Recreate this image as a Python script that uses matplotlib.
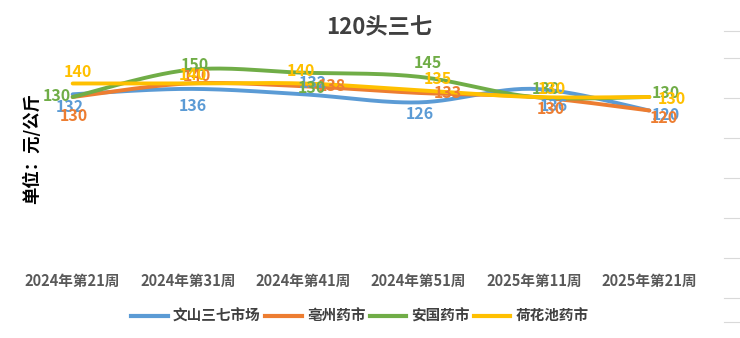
import numpy as np
import matplotlib
matplotlib.use("Agg")
import matplotlib.pyplot as plt
from matplotlib.lines import Line2D

plt.rcParams['font.family'] = ['Noto Sans CJK SC', 'DejaVu Sans']

# ---------------- data ----------------
title = "120头三七"
ylabel = "单位：元/公斤"
weeks = ["2024年第21周", "2024年第31周", "2024年第41周", "2024年第51周", "2025年第11周", "2025年第21周"]
series_names = ["文山三七市场", "亳州药市", "安国药市", "荷花池药市"]
wenshan = [132, 136, 132, 126, 136, 120]
bozhou = [130, 140, 138, 133, 130, 120]
anguo = [130, 150, 148, 145, 130, 130]
hehuachi = [140, 140, 140, 135, 130, 130]
# label texts as printed on the chart
wenshan_lbl = ["132", "136", "132", "126", "136", "120"]
bozhou_lbl = ["130", "140", "138", "133", "130", "120"]
anguo_lbl = ["130", "150", "130", "145", "130", "130"]
hehuachi_lbl = ["140", "140", "140", "135", "130", "130"]

# ---------------- style ----------------
colors = ["#5B9BD5", "#ED7D31", "#70AD47", "#FFC000"]
# label offsets in pixels (dx, dy down-positive)
offsets = [
    [(-3, 13), (5, 17), (9, -11), (1, 12), (20, 17), (17, 5)],
    [(1, 19), (9, -7), (29, 0), (29, 0), (17, 12), (15, 8)],
    [(-16, -1), (7, -5), (9, 15), (9, -14), (12, -8), (17, -4)],
    [(5, -11), (5, -8), (-2, -12), (19, -11), (18, -8), (23, 2)],
]

W, H = 740, 338
fig = plt.figure(figsize=(W / 100, H / 100), dpi=100)
ax = fig.add_axes([15 / W, (H - 265) / H, 692 / W, 205 / H])


def smooth(xs, ys, n=30, t=1 / 6):
    xs = np.asarray(xs, float)
    ys = np.asarray(ys, float)
    px = np.concatenate([[xs[0]], xs, [xs[-1]]])
    py = np.concatenate([[ys[0]], ys, [ys[-1]]])
    ox, oy = [], []
    s = np.linspace(0, 1, n)
    for i in range(1, len(px) - 2):
        p0 = np.array([px[i], py[i]])
        p3 = np.array([px[i + 1], py[i + 1]])
        p1 = p0 + t * (np.array([px[i + 1], py[i + 1]]) - np.array([px[i - 1], py[i - 1]]))
        p2 = p3 - t * (np.array([px[i + 2], py[i + 2]]) - np.array([px[i], py[i]]))
        b = ((1 - s) ** 3)[:, None] * p0 + (3 * (1 - s) ** 2 * s)[:, None] * p1 \
            + (3 * (1 - s) * s ** 2)[:, None] * p2 + (s ** 3)[:, None] * p3
        ox.extend(b[:, 0])
        oy.extend(b[:, 1])
    return np.array(ox), np.array(oy)


x = np.arange(len(weeks))
all_vals = [wenshan, bozhou, anguo, hehuachi]
all_lbls = [wenshan_lbl, bozhou_lbl, anguo_lbl, hehuachi_lbl]
for vals, col in zip(all_vals, colors):
    sx, sy = smooth(x, vals)
    ax.plot(sx, sy, color=col, lw=2.8, solid_capstyle='round', zorder=2)

for vals, lbls, col, offs in zip(all_vals, all_lbls, colors, offsets):
    for xi, v, lb, (dx, dy) in zip(x, vals, lbls, offs):
        ax.annotate(lb, (xi, v), xytext=(dx * 0.72, -dy * 0.72), textcoords='offset points',
                    ha='center', va='center', color=col, fontsize=11.5, fontweight='bold', zorder=3)

ax.set_xlim(-0.5, 5.5)
ax.set_ylim(5.56, 157.4)
ax.set_xticks(x)
ax.set_xticklabels(weeks, fontsize=10.5, fontweight='bold', color='#595959')
ax.tick_params(axis='x', length=0, pad=6)
ax.set_yticks([])
for sp in ax.spines.values():
    sp.set_visible(False)

fig.text(379 / W, 1 - 28 / H, title, ha='center', va='center', fontsize=16,
         fontweight='bold', color='#404040')
fig.text(32 / W, 1 - 148 / H, ylabel, ha='center', va='center', rotation=90,
         fontsize=12.5, fontweight='bold', color='black')

handles = [Line2D([0], [0], color=c, lw=3) for c in colors]
leg = fig.legend(handles, series_names, loc='center', bbox_to_anchor=(360 / W, 1 - 316 / H),
                 ncol=4, frameon=False, handlelength=2.5, handletextpad=0.35,
                 columnspacing=0.3, prop={'weight': 'bold', 'size': 10.5})
for t in leg.get_texts():
    t.set_color('#404040')

# faint marks at the right edge
for yy in [31, 58, 98, 138, 178, 218, 258, 298, 322]:
    fig.add_artist(Line2D([724 / W, 740 / W], [1 - yy / H, 1 - yy / H], color='#D9D9D9', lw=0.8))

fig.savefig("out.png", dpi=100)
